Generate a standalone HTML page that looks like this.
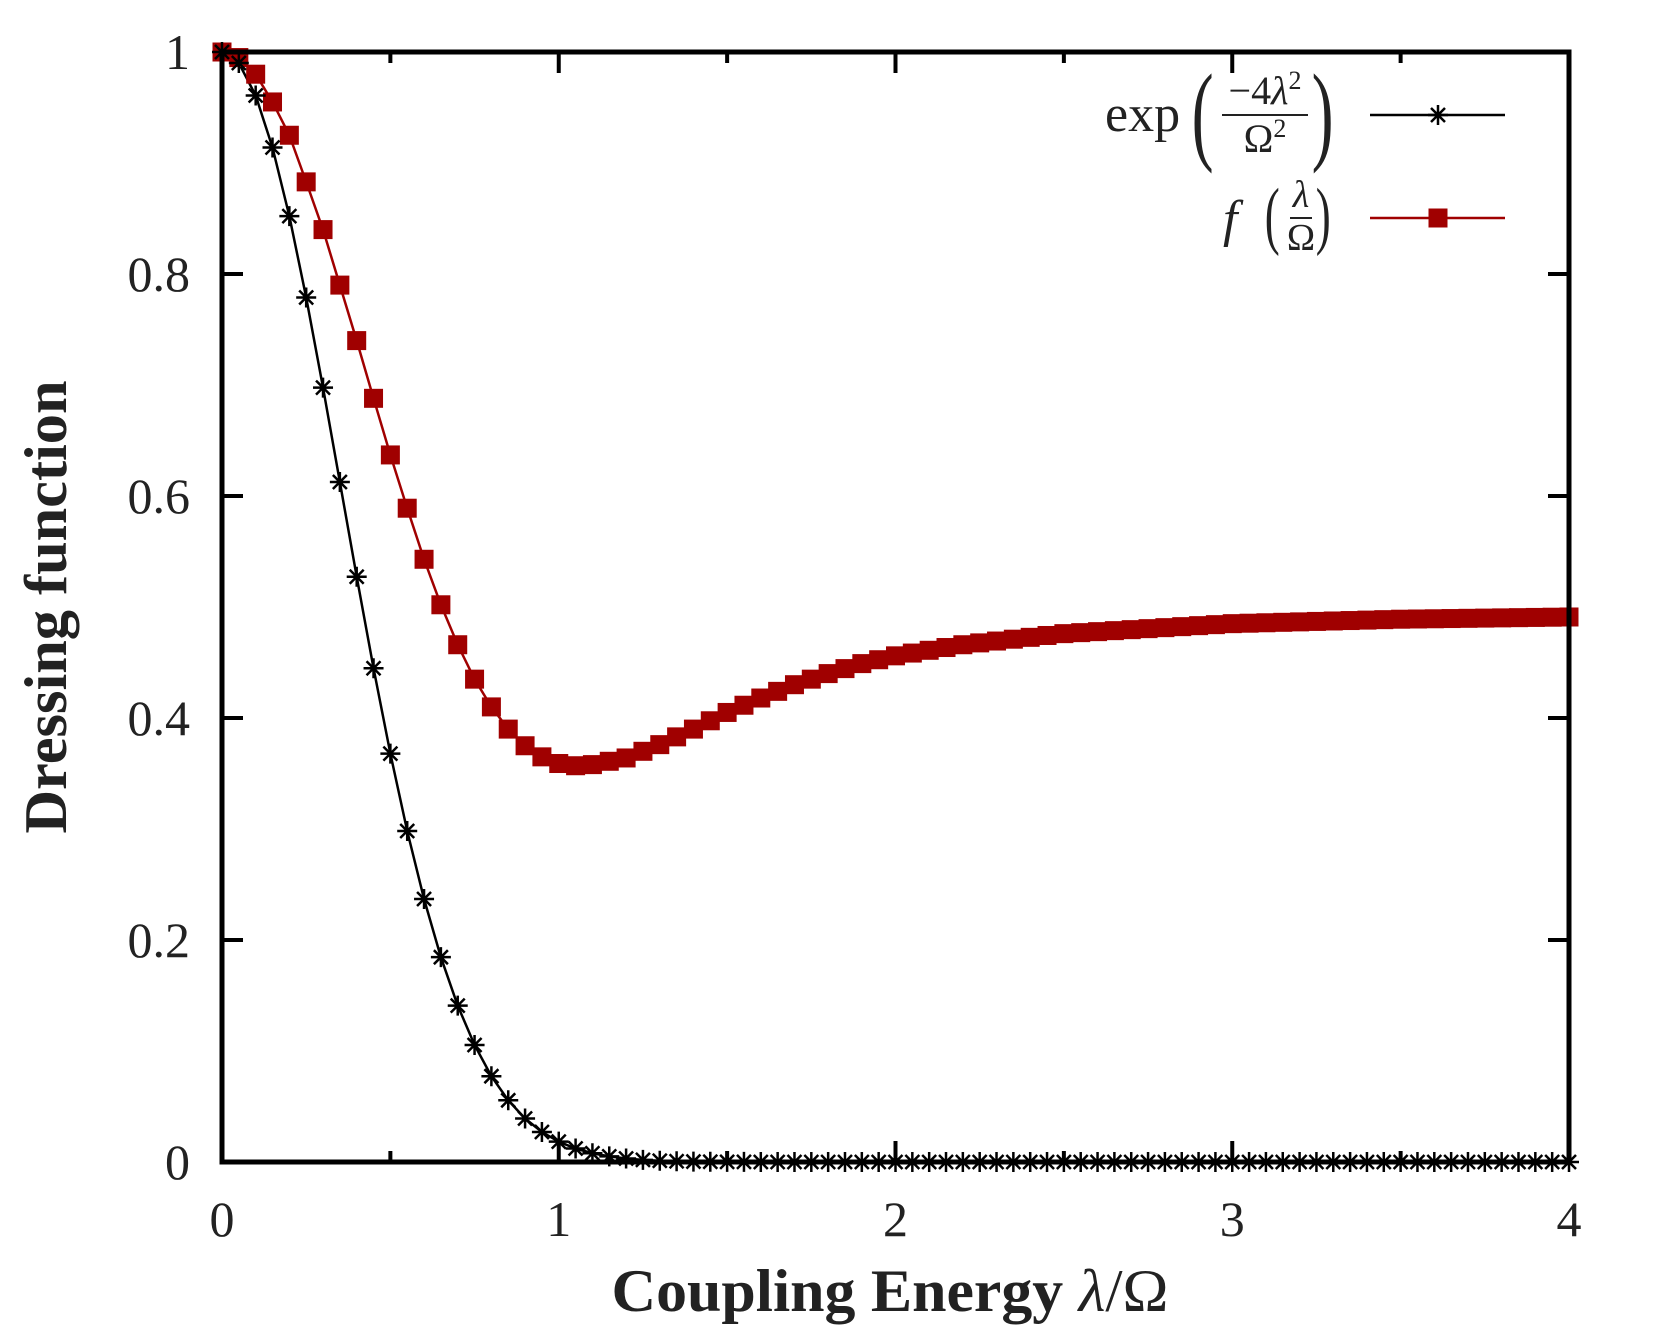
<!DOCTYPE html>
<html><head><meta charset="utf-8">
<style>
html,body{margin:0;padding:0;background:#fff;}
svg{display:block;}
text{font-family:"Liberation Serif",serif;fill:#222;}
</style></head>
<body>
<svg id="s" xmlns="http://www.w3.org/2000/svg" width="1661" height="1329" viewBox="0 0 1661 1329">
<rect width="1661" height="1329" fill="#fff"/>
<g id="ticks" stroke="#000" stroke-width="4"></g>
<g id="lbl" font-size="50" text-anchor="middle"></g>
<text x="48" y="607" font-size="60" font-weight="bold" text-anchor="middle" transform="rotate(-90 48 607)" textLength="453" lengthAdjust="spacingAndGlyphs" dy="18">Dressing function</text>
<text x="890" y="1311" font-size="60" font-weight="bold" text-anchor="middle" textLength="557" lengthAdjust="spacingAndGlyphs">Coupling Energy <tspan font-style="italic" font-weight="normal">λ</tspan><tspan font-weight="normal">/Ω</tspan></text>
<g id="series"></g>
<rect x="222" y="52" width="1347" height="1110" fill="none" stroke="#000" stroke-width="5"/>
<!-- legend -->
<text x="1105" y="131" font-size="52">exp</text>
<text x="1192" y="150" font-size="110" transform="scale(0.6 1) translate(794 0)" >(</text>
<text x="1265" y="104" font-size="40" text-anchor="middle">−4<tspan font-style="italic">λ</tspan><tspan font-size="26" dy="-15">2</tspan></text>
<line x1="1222" y1="115" x2="1308" y2="115" stroke="#222" stroke-width="2"/>
<text x="1265" y="152" font-size="40" text-anchor="middle">Ω<tspan font-size="26" dy="-15">2</tspan></text>
<text x="1312" y="150" font-size="110" transform="scale(0.6 1) translate(874 0)">)</text>
<text x="1223" y="236" font-size="52" font-style="italic">f</text>
<text x="1265" y="240" font-size="75" transform="scale(0.6 1) translate(843 0)">(</text>
<text x="1301" y="207" font-size="38" text-anchor="middle" font-style="italic">λ</text>
<line x1="1290" y1="218" x2="1312" y2="218" stroke="#222" stroke-width="2"/>
<text x="1301" y="250" font-size="38" text-anchor="middle">Ω</text>
<text x="1316" y="240" font-size="75" transform="scale(0.6 1) translate(877 0)">)</text>
<line x1="1370" y1="115" x2="1505" y2="115" stroke="#000" stroke-width="2.5"/>
<line x1="1370" y1="218" x2="1505" y2="218" stroke="#a00000" stroke-width="2.5"/>
<g id="leg"></g>
</svg>
<script>
const X0=222,X1=1569,Y0=1162,Y1=52;
const sx=x=>X0+(X1-X0)*x/4, sy=y=>Y0-(Y0-Y1)*y;
const NS="http://www.w3.org/2000/svg";
function el(p,t,a,txt){const e=document.createElementNS(NS,t);for(const k in a)e.setAttribute(k,a[k]);if(txt!=null)e.textContent=txt;p.appendChild(e);return e;}
const tk=document.getElementById('ticks'),lb=document.getElementById('lbl');
for(let i=0;i<=8;i++){const x=sx(i/2),L=i%2?11:21;
 el(tk,'line',{x1:x,y1:Y0,x2:x,y2:Y0-L});el(tk,'line',{x1:x,y1:Y1,x2:x,y2:Y1+L});
 if(i%2==0)el(lb,'text',{x:x,y:1236},String(i/2));}
for(let i=0;i<=5;i++){const y=sy(i/5);
 el(tk,'line',{x1:X0,y1:y,x2:X0+21,y2:y});el(tk,'line',{x1:X1,y1:y,x2:X1-21,y2:y});
 const t=['0','0.2','0.4','0.6','0.8','1'][i];
 el(lb,'text',{x:190,y:y+17,'text-anchor':'end'},t);}
const T=[[0,1],[.05,.995],[.1,.98],[.15,.955],[.2,.925],[.25,.883],[.3,.84],[.35,.79],[.4,.74],[.45,.688],[.5,.637],[.55,.589],[.6,.543],[.65,.502],[.7,.466],[.75,.435],[.8,.41],[.85,.39],[.9,.375],[.95,.365],[1,.359],[1.05,.357],[1.1,.358],[1.2,.364],[1.3,.376],[1.4,.39],[1.5,.405],[1.6,.418],[1.7,.43],[1.8,.44],[1.9,.449],[2,.456],[2.2,.466],[2.5,.476],[3,.485],[3.5,.489],[4,.491]];
function f(x){for(let i=0;i<T.length-1;i++){if(x<=T[i+1][0]+1e-9){const [a,ya]=T[i],[b,yb]=T[i+1];return ya+(yb-ya)*(x-a)/(b-a);}}return .491;}
const g=document.getElementById('series');
let pr=[],pb=[];
for(let i=0;i<=80;i++){const x=i*0.05;pr.push([sx(x),sy(f(x))]);pb.push([sx(x),sy(Math.exp(-4*x*x))]);}
el(g,'polyline',{points:pr.map(p=>p.join(',')).join(' '),fill:'none',stroke:'#a00000','stroke-width':2.5});
el(g,'polyline',{points:pb.map(p=>p.join(',')).join(' '),fill:'none',stroke:'#000','stroke-width':2.5});
function sq(p,x,y){el(p,'rect',{x:x-9.5,y:y-9.5,width:19,height:19,fill:'#a00000'});}
function star(p,x,y){const r=10,d=7;el(p,'path',{d:`M${x-r} ${y}H${x+r}M${x} ${y-r}V${y+r}M${x-d} ${y-d}L${x+d} ${y+d}M${x-d} ${y+d}L${x+d} ${y-d}`,stroke:'#000','stroke-width':2.5,fill:'none'});}
pr.forEach(p=>sq(g,p[0],p[1]));
pb.forEach(p=>star(g,p[0],p[1]));
const lg=document.getElementById('leg');star(lg,1438,115);sq(lg,1438,218);
</script>
</body></html>
